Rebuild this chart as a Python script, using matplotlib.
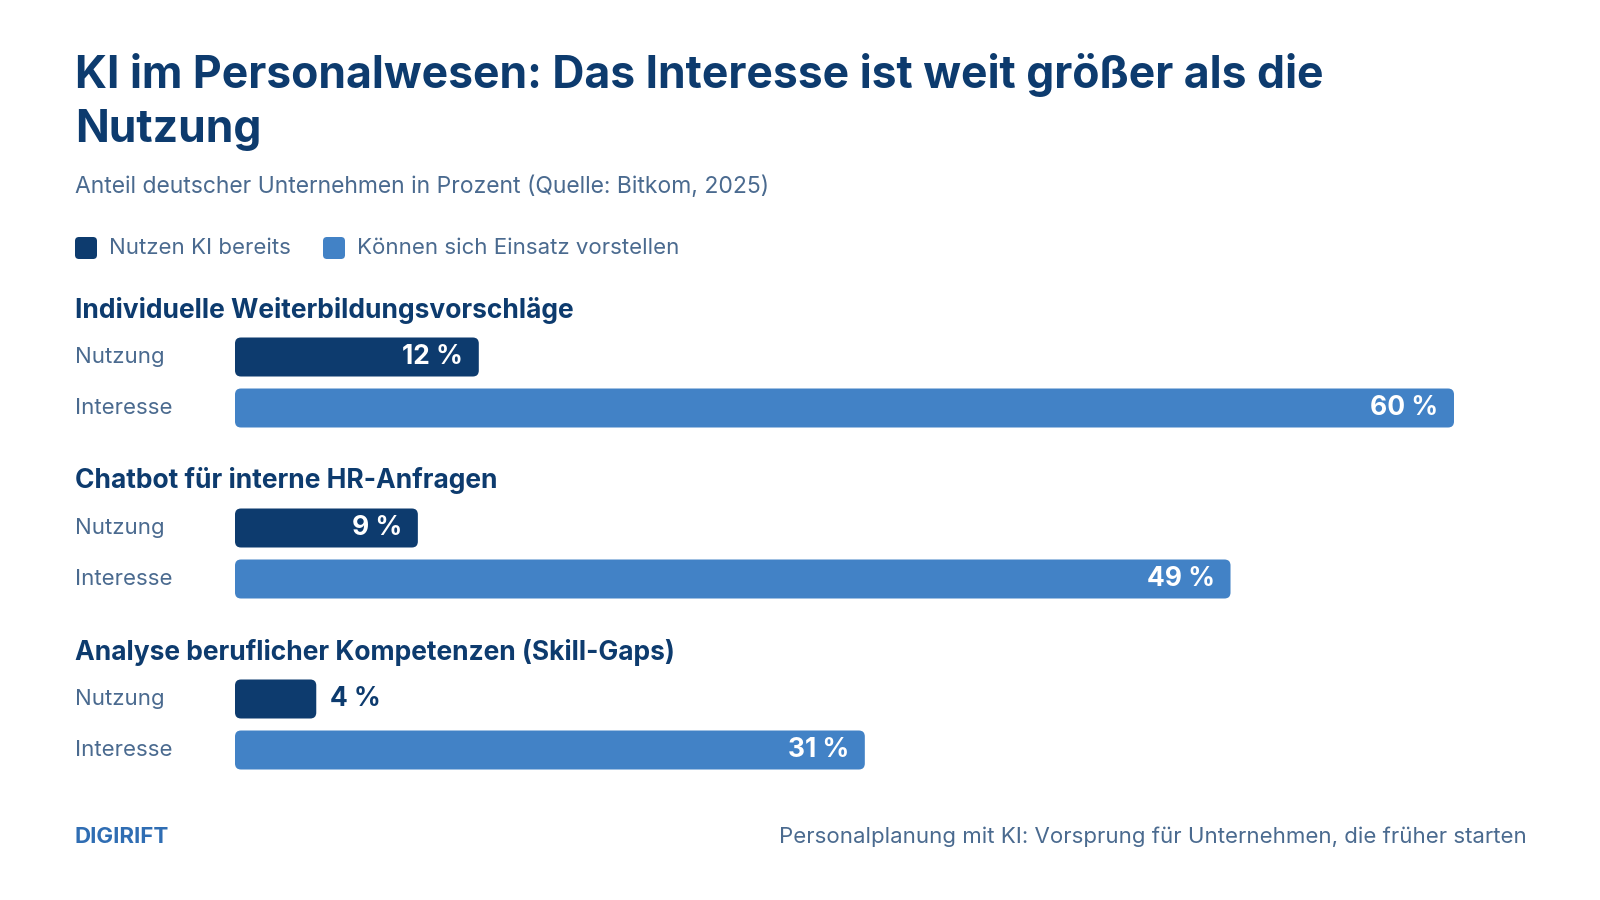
import matplotlib
matplotlib.use("Agg")
import matplotlib.pyplot as plt
from matplotlib.patches import FancyBboxPatch

# data
groups = ["Individuelle Weiterbildungsvorschläge",
          "Chatbot für interne HR-Anfragen",
          "Analyse beruflicher Kompetenzen (Skill-Gaps)"]
nutzung = [12, 9, 4]
interesse = [60, 49, 31]
row_labels = ["Nutzung", "Interesse"]

DARK = "#0d3b6e"
LIGHT = "#4282c6"
SUB = "#4a6a8f"
FONT = ["Inter", "DejaVu Sans"]

fig = plt.figure(figsize=(16, 9), dpi=100)
ax = fig.add_axes([0, 0, 1, 1])
ax.set_xlim(0, 1600)
ax.set_ylim(900, 0)
ax.axis("off")

ax.text(75, 75, "KI im Personalwesen: Das Interesse ist weit größer als die",
        fontsize=32, fontweight="bold", color=DARK, family=FONT, va="center")
ax.text(75, 130, "Nutzung",
        fontsize=32, fontweight="bold", color=DARK, family=FONT, va="center")
ax.text(75, 187, "Anteil deutscher Unternehmen in Prozent (Quelle: Bitkom, 2025)",
        fontsize=16.5, color=SUB, family=FONT, va="center")

# legend
for x0, col, lab in [(75, DARK, "Nutzen KI bereits"), (323, LIGHT, "Können sich Einsatz vorstellen")]:
    ax.add_patch(FancyBboxPatch((x0, 237), 22, 22, boxstyle="round,pad=0,rounding_size=4",
                                facecolor=col, edgecolor="none"))
    ax.text(x0 + 34, 248, lab, fontsize=16, color=SUB, family=FONT, va="center")

x0 = 235
scale = (1454 - x0) / 60  # px per percent
bar_h = 39
group_top = [310, 481, 652]
for i, g in enumerate(groups):
    gy = group_top[i]
    ax.text(75, gy, g, fontsize=19, fontweight="bold", color=DARK, family=FONT, va="center")
    for j, (v, col) in enumerate([(nutzung[i], DARK), (interesse[i], LIGHT)]):
        yc = gy + 47 + j * 51
        ax.text(75, yc, row_labels[j], fontsize=16, color=SUB, family=FONT, va="center")
        w = v * scale
        ax.add_patch(FancyBboxPatch((x0, yc - bar_h / 2), w, bar_h,
                                    boxstyle="round,pad=0,rounding_size=6",
                                    facecolor=col, edgecolor="none"))
        lab = f"{v} %"
        if w > 120:
            ax.text(x0 + w - 16, yc, lab, fontsize=19, fontweight="bold", color="white",
                    family=FONT, va="center", ha="right")
        else:
            ax.text(x0 + w + 14, yc, lab, fontsize=19, fontweight="bold", color=DARK,
                    family=FONT, va="center", ha="left")

ax.text(75, 837, "DIGIRIFT", fontsize=16, fontweight="bold", color="#2f6db3",
        family=FONT, va="center")
ax.text(1527, 837, "Personalplanung mit KI: Vorsprung für Unternehmen, die früher starten",
        fontsize=16, color=SUB, family=FONT, va="center", ha="right")

fig.savefig("out.png", dpi=100, facecolor="white")
